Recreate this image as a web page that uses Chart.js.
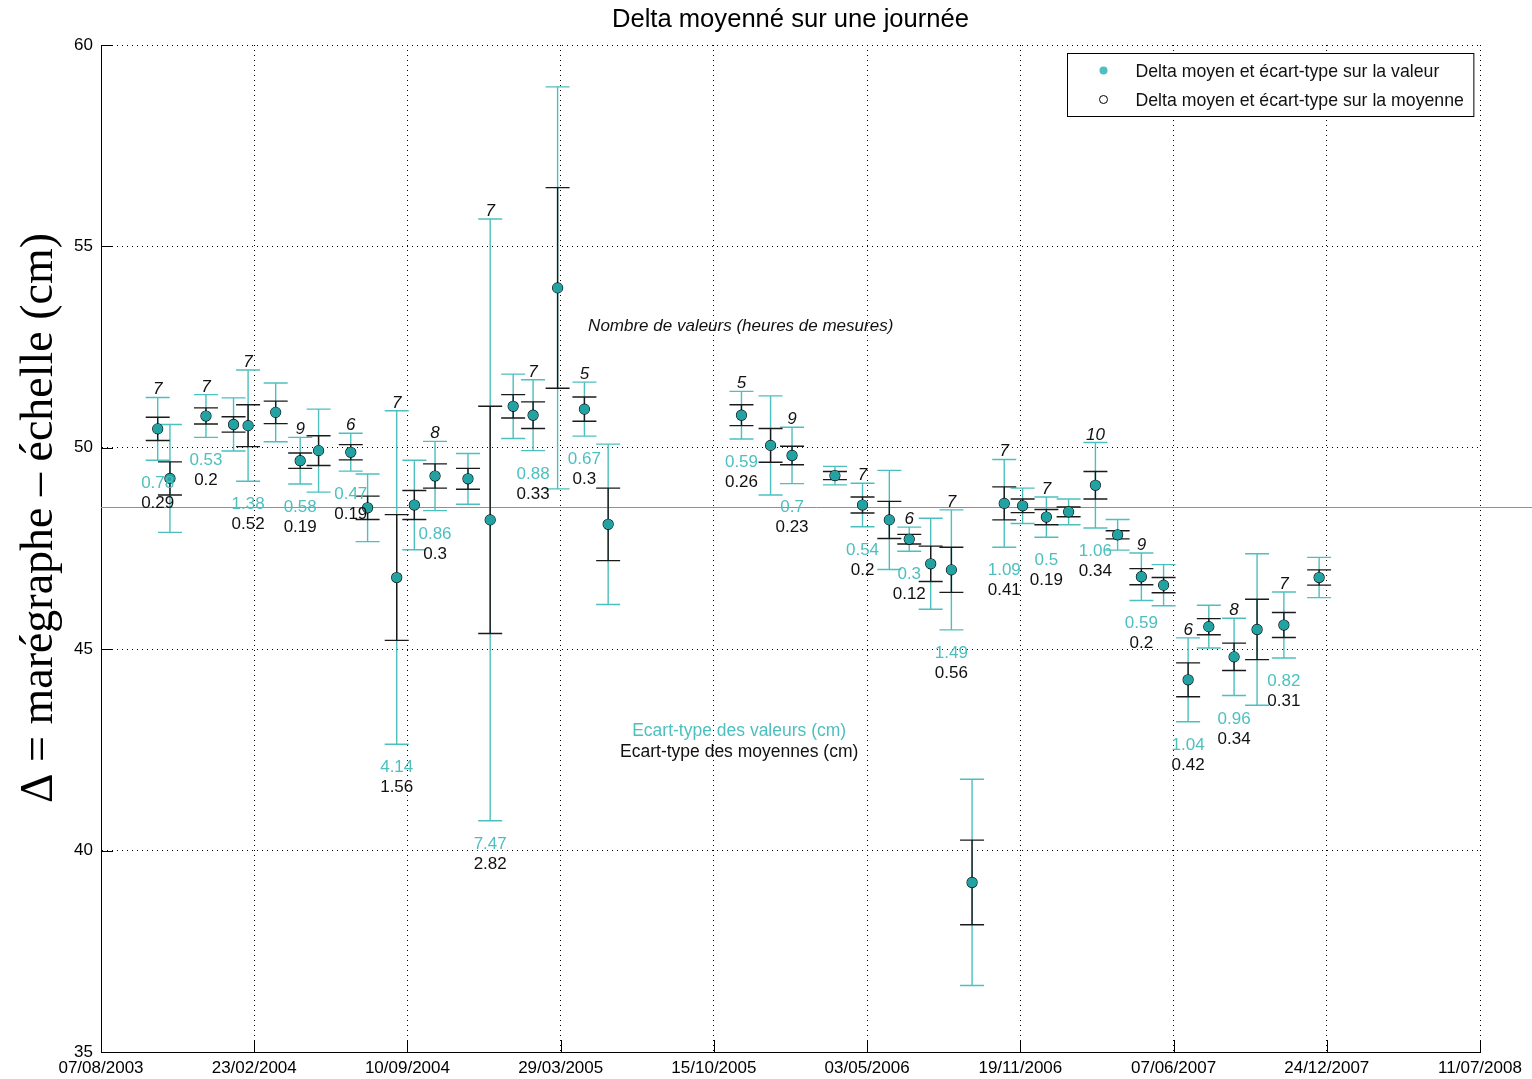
<!DOCTYPE html>
<html lang="fr">
<head>
<meta charset="UTF-8">
<title>Delta moyenné sur une journée</title>
<script src="https://cdn.jsdelivr.net/npm/chart.js"></script>
<style>
  html, body { margin: 0; padding: 0; background: #fff; }
  canvas { display: block; }
</style>
</head>
<body>
<canvas id="deltaChart" width="1532" height="1079"></canvas>
<script>
// journées de mesure
const dates = [
  '2003-10-20', '2003-11-05', '2003-12-22', '2004-01-27', '2004-02-15', '2004-03-22',
  '2004-04-23', '2004-05-17', '2004-06-28', '2004-07-20', '2004-08-27', '2004-09-19',
  '2004-10-16', '2004-11-28', '2004-12-27', '2005-01-26', '2005-02-21', '2005-03-25',
  '2005-04-29', '2005-05-30', '2005-11-20', '2005-12-28', '2006-01-25', '2006-03-22',
  '2006-04-27', '2006-06-01', '2006-06-27', '2006-07-25', '2006-08-21', '2006-09-17',
  '2006-10-29', '2006-11-22', '2006-12-23', '2007-01-21', '2007-02-25', '2007-03-26',
  '2007-04-26', '2007-05-25', '2007-06-26', '2007-07-23', '2007-08-25', '2007-09-24',
  '2007-10-29', '2007-12-14'
];
// delta moyen (cm)
const deltaMoyen = [
  50.47, 49.24, 50.79, 50.58, 50.55, 50.88,
  49.68, 49.93, 49.89, 48.51, 46.78, 48.58,
  49.30, 49.23, 48.21, 51.03, 50.81, 53.97,
  50.96, 48.10, 50.81, 50.06, 49.81, 49.31,
  48.58, 48.21, 47.73, 47.12, 46.97, 39.21,
  48.62, 48.56, 48.28, 48.41, 49.07, 47.84,
  46.80, 46.59, 44.24, 45.56, 44.81, 45.49,
  45.60, 46.78
];
// écart-type des valeurs (cm)
const ecartValeurs = [
  0.78, 1.34, 0.53, 0.66, 1.38, 0.73,
  0.58, 1.03, 0.47, 0.84, 4.14, 1.11,
  0.86, 0.63, 7.47, 0.80, 0.88, 4.99,
  0.67, 1.99, 0.59, 1.23, 0.7, 0.23,
  0.54, 1.23, 0.3, 1.13, 1.49, 2.56,
  1.09, 0.44, 0.5, 0.32, 1.06, 0.38,
  0.59, 0.51, 1.04, 0.53, 0.96, 1.88,
  0.82, 0.50
];
// écart-type des moyennes (cm)
const ecartMoyennes = [
  0.29, 0.41, 0.2, 0.19, 0.52, 0.28,
  0.19, 0.37, 0.19, 0.29, 1.56, 0.36,
  0.3, 0.26, 2.82, 0.29, 0.33, 2.49,
  0.3, 0.90, 0.26, 0.42, 0.23, 0.10,
  0.2, 0.46, 0.12, 0.44, 0.56, 1.05,
  0.41, 0.17, 0.19, 0.12, 0.34, 0.10,
  0.2, 0.19, 0.42, 0.20, 0.34, 0.75,
  0.31, 0.19
];
// nombre de valeurs (affiché un point sur deux)
const nbValeurs = [
  7, null, 7, null, 7, null,
  9, null, 6, null, 7, null,
  8, null, 7, null, 7, null,
  5, null, 5, null, 9, null,
  7, null, 6, null, 7, null,
  7, null, 7, null, 10, null,
  9, null, 6, null, 8, null,
  7, null
];
const xTickDates = ['2003-08-07', '2004-02-23', '2004-09-10', '2005-03-29', '2005-10-15',
  '2006-05-03', '2006-11-19', '2007-06-07', '2007-12-24', '2008-07-11'];
const yTicks = [35, 40, 45, 50, 55, 60];
const niveauMoyen = 48.52;

const noteNombre = { date: '2005-11-19', value: 53.02, text: 'Nombre de valeurs (heures de mesures)' };
const noteValeurs = { date: '2005-11-17', value: 42.97, text: 'Ecart-type des valeurs (cm)' };
const noteMoyennes = { date: '2005-11-17', value: 42.45, text: 'Ecart-type des moyennes (cm)' };

const CYAN = '#4dbfbf';
const TEAL = '#22a2a2';
const FONT = '"Liberation Sans", Arial, sans-serif';

const jour0 = Date.UTC(2003, 7, 7);
function toJour(s) {
  const [y, m, d] = s.split('-').map(Number);
  return (Date.UTC(y, m - 1, d) - jour0) / 86400000;
}
function pad(n) { return n < 10 ? '0' + n : '' + n; }
function fmtJour(v) {
  const d = new Date(jour0 + v * 86400000);
  return pad(d.getUTCDate()) + '/' + pad(d.getUTCMonth() + 1) + '/' + d.getUTCFullYear();
}

const jours = dates.map(toJour);
const points = jours.map((j, i) => ({ x: j, y: deltaMoyen[i] }));

function errorBar(ctx, x, yTop, yBot, color) {
  ctx.strokeStyle = color;
  ctx.beginPath();
  ctx.moveTo(x, yTop); ctx.lineTo(x, yBot);
  ctx.moveTo(x - 12, yTop); ctx.lineTo(x + 12, yTop);
  ctx.moveTo(x - 12, yBot); ctx.lineTo(x + 12, yBot);
  ctx.stroke();
}

const decorPlugin = {
  id: 'decor',
  beforeDatasetsDraw(chart) {
    const { ctx, chartArea: a, scales: { x: xs, y: ys } } = chart;
    ctx.save();
    // niveau moyen
    const yl = Math.round(ys.getPixelForValue(niveauMoyen)) + 0.5;
    ctx.strokeStyle = '#7f90c4';
    ctx.lineWidth = 1;
    ctx.beginPath();
    ctx.moveTo(a.left, yl); ctx.lineTo(chart.width, yl);
    ctx.stroke();
    // barres d'erreur
    ctx.lineWidth = 1.4;
    jours.forEach((j, i) => {
      const x = xs.getPixelForValue(j);
      errorBar(ctx, x, ys.getPixelForValue(deltaMoyen[i] + ecartValeurs[i]),
        ys.getPixelForValue(deltaMoyen[i] - ecartValeurs[i]), CYAN);
    });
    jours.forEach((j, i) => {
      const x = xs.getPixelForValue(j);
      errorBar(ctx, x, ys.getPixelForValue(deltaMoyen[i] + ecartMoyennes[i]),
        ys.getPixelForValue(deltaMoyen[i] - ecartMoyennes[i]), '#1a1a1a');
    });
    ctx.restore();
  },
  afterDraw(chart) {
    const { ctx, chartArea: a, scales: { x: xs, y: ys } } = chart;
    ctx.save();
    // graduations vers l'intérieur
    ctx.strokeStyle = '#000';
    ctx.lineWidth = 1;
    ctx.beginPath();
    xs.ticks.forEach(t => {
      const px = Math.round(xs.getPixelForValue(t.value)) + 0.5;
      ctx.moveTo(px, a.bottom); ctx.lineTo(px, a.bottom - 12);
    });
    ys.ticks.forEach(t => {
      const py = Math.round(ys.getPixelForValue(t.value)) + 0.5;
      ctx.moveTo(a.left, py); ctx.lineTo(a.left + 12, py);
    });
    ctx.stroke();

    // étiquettes par point
    ctx.textAlign = 'center';
    ctx.textBaseline = 'alphabetic';
    jours.forEach((j, i) => {
      if (nbValeurs[i] == null) return;
      const x = xs.getPixelForValue(j);
      const top = ys.getPixelForValue(deltaMoyen[i] + ecartValeurs[i]);
      const bas = ys.getPixelForValue(deltaMoyen[i] - ecartValeurs[i]);
      ctx.font = 'italic 17px ' + FONT;
      ctx.fillStyle = '#111';
      ctx.fillText(String(nbValeurs[i]), x, top - 3);
      ctx.font = '17px ' + FONT;
      ctx.fillStyle = CYAN;
      ctx.fillText(String(ecartValeurs[i]), x, bas + 28);
      ctx.fillStyle = '#111';
      ctx.fillText(String(ecartMoyennes[i]), x, bas + 48);
    });

    // notes
    ctx.textBaseline = 'middle';
    ctx.font = 'italic 17px ' + FONT;
    ctx.fillStyle = '#111';
    ctx.fillText(noteNombre.text, xs.getPixelForValue(toJour(noteNombre.date)), ys.getPixelForValue(noteNombre.value));
    ctx.font = '17.5px ' + FONT;
    ctx.fillStyle = CYAN;
    ctx.fillText(noteValeurs.text, xs.getPixelForValue(toJour(noteValeurs.date)), ys.getPixelForValue(noteValeurs.value));
    ctx.fillStyle = '#111';
    ctx.fillText(noteMoyennes.text, xs.getPixelForValue(toJour(noteMoyennes.date)), ys.getPixelForValue(noteMoyennes.value));

    // légende
    const ds = chart.data.datasets;
    ctx.font = '17.7px ' + FONT;
    const tw = Math.max(...ds.map(d => ctx.measureText(d.label).width));
    const bw = 68 + tw + 10, bh = 63;
    const bx = Math.round(a.right - 7 - bw) + 0.5, by = Math.round(a.top + 8) + 0.5;
    ctx.fillStyle = '#fff';
    ctx.fillRect(bx, by, bw, bh);
    ctx.strokeStyle = '#000';
    ctx.lineWidth = 1;
    ctx.strokeRect(bx, by, bw, bh);
    ds.forEach((d, k) => {
      const cy = by + 17 + k * 29;
      ctx.beginPath();
      ctx.arc(bx + 36, cy, 4, 0, Math.PI * 2);
      if (k === 0) { ctx.fillStyle = CYAN; ctx.fill(); }
      else { ctx.strokeStyle = '#000'; ctx.stroke(); }
      ctx.fillStyle = '#111';
      ctx.textAlign = 'left';
      ctx.fillText(d.label, bx + 68, cy + 2);
    });

    // titre
    ctx.textAlign = 'center';
    ctx.font = '25.6px ' + FONT;
    ctx.fillStyle = '#000';
    ctx.fillText('Delta moyenné sur une journée', (a.left + a.right) / 2, 20);

    // titre de l'axe y
    ctx.translate(40, 518);
    ctx.rotate(-Math.PI / 2);
    ctx.font = '46px "Liberation Serif", "Times New Roman", serif';
    ctx.fillText('Δ = marégraphe – échelle (cm)', 0, 0);
    ctx.restore();
  }
};

new Chart(document.getElementById('deltaChart'), {
  type: 'scatter',
  data: {
    datasets: [
      {
        label: 'Delta moyen et écart-type sur la valeur',
        data: points,
        pointRadius: 5,
        pointBackgroundColor: TEAL,
        pointBorderColor: TEAL,
        pointBorderWidth: 0
      },
      {
        label: 'Delta moyen et écart-type sur la moyenne',
        data: points,
        pointRadius: 5,
        pointBackgroundColor: 'rgba(0,0,0,0)',
        pointBorderColor: '#000',
        pointBorderWidth: 1.2
      }
    ]
  },
  options: {
    responsive: false,
    animation: false,
    events: [],
    layout: { padding: { top: 45, right: 52, left: 0, bottom: 0 } },
    plugins: { legend: { display: false }, tooltip: { enabled: false }, title: { display: false } },
    scales: {
      x: {
        type: 'linear',
        min: toJour(xTickDates[0]),
        max: toJour(xTickDates[xTickDates.length - 1]),
        afterBuildTicks: s => { s.ticks = xTickDates.map(d => ({ value: toJour(d) })); },
        afterFit: s => { s.height = 27; },
        ticks: { callback: v => fmtJour(v), color: '#000', font: { family: FONT, size: 17 }, padding: 6, maxRotation: 0, autoSkip: false },
        grid: { color: '#000', lineWidth: 1, drawTicks: false },
        border: { display: true, color: '#000', width: 1, dash: [1, 4] }
      },
      y: {
        min: yTicks[0],
        max: yTicks[yTicks.length - 1],
        afterBuildTicks: s => { s.ticks = yTicks.map(v => ({ value: v })); },
        afterFit: s => { s.width = 101; },
        ticks: { color: '#000', font: { family: FONT, size: 17 }, padding: 8 },
        grid: { color: '#000', lineWidth: 1, drawTicks: false },
        border: { display: true, color: '#000', width: 1, dash: [1, 4] }
      }
    }
  },
  plugins: [decorPlugin]
});
</script>
</body>
</html>
